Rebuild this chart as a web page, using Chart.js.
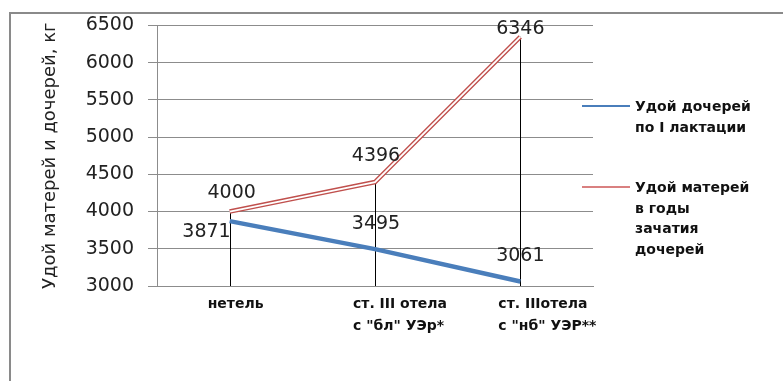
<!DOCTYPE html>
<html>
<head>
<meta charset="utf-8">
<script src="https://cdn.jsdelivr.net/npm/chart.js@4"></script>
<style>
  html, body { margin: 0; padding: 0; background: #fff; }
  #wrap { position: relative; width: 783px; height: 381px; overflow: hidden; background: #fff; }
  #frame { position: absolute; left: 9px; top: 12px; width: 830px; height: 430px;
           border: 2px solid #8a8a8a; box-sizing: border-box; }
  #chart { position: absolute; left: 0; top: 0; }
  #legend { position: absolute; left: 582px; top: 0; font: bold 14px "DejaVu Sans", sans-serif; color: #111; }
  .item { position: absolute; left: 0; white-space: nowrap; }
  .swatch { position: absolute; left: 0; width: 48px; height: 2px; }
  .txt { position: absolute; left: 53px; top: 0; line-height: 20.5px; }
</style>
</head>
<body>
<div id="wrap">
  <div id="frame"></div>
  <canvas id="chart" width="783" height="381"></canvas>
  <div id="legend"></div>
</div>
<script>
// Categories (multi-line axis labels)
const categories = [
  ['нетель'],
  ['ст. III отела', 'с "бл" УЭр*'],
  ['ст. IIIотела', 'с "нб" УЭР**']
];

// Milk yield, kg
const daughtersYield = [3871, 3495, 3061];
const mothersYield   = [4000, 4396, 6346];

// Value axis
const yMin = 3000;
const yMax = 6500;
const yStep = 500;
const yTitle = 'Удой матерей и дочерей, кг';

// Series names as they wrap in the legend
const daughtersName = ['Удой дочерей', 'по I лактации'];
const mothersName   = ['Удой матерей', 'в годы', 'зачатия', 'дочерей'];

const BLUE = '#4a7ebb';
const RED = '#c0504d';
const GRID = '#8c8c8c';
const FONT = '"DejaVu Sans", sans-serif';

// Vertical drop lines from the highest point of each category to the axis
const dropLines = {
  id: 'dropLines',
  beforeDatasetsDraw(chart) {
    const { ctx, chartArea, scales: { x, y } } = chart;
    ctx.save();
    ctx.strokeStyle = '#000';
    ctx.lineWidth = 1;
    categories.forEach((_, i) => {
      const top = Math.max(daughtersYield[i], mothersYield[i]);
      const px = Math.round(x.getPixelForValue(i)) + 0.5;
      ctx.beginPath();
      ctx.moveTo(px, y.getPixelForValue(top));
      ctx.lineTo(px, chartArea.bottom);
      ctx.stroke();
    });
    ctx.restore();
  }
};

// Value labels next to each point
const valueLabels = {
  id: 'valueLabels',
  afterDatasetsDraw(chart, args, opts) {
    const { ctx } = chart;
    ctx.save();
    ctx.font = opts.font;
    ctx.fillStyle = opts.color;
    ctx.textBaseline = 'middle';
    opts.series.forEach(dsIndex => {
      const meta = chart.getDatasetMeta(dsIndex);
      const values = chart.data.datasets[dsIndex].data;
      meta.data.forEach((pt, i) => {
        const p = opts.placement[dsIndex][i];
        ctx.textAlign = p.align;
        ctx.fillText(String(values[i]), pt.x + p.dx, pt.y + p.dy);
      });
    });
    ctx.restore();
  }
};

const chart = new Chart(document.getElementById('chart'), {
  type: 'line',
  data: {
    labels: categories,
    datasets: [
      {
        label: daughtersName.join(' '),
        data: daughtersYield,
        borderColor: BLUE,
        borderWidth: 4.5,
        pointRadius: 0,
        order: 1
      },
      {
        label: mothersName.join(' '),
        data: mothersYield,
        borderColor: RED,
        borderWidth: 4.5,
        pointRadius: 0,
        order: 1
      },
      {
        // white core that gives the mothers' line its double stroke
        label: '',
        data: mothersYield,
        borderColor: '#ffffff',
        borderWidth: 1.8,
        pointRadius: 0,
        order: 0
      }
    ]
  },
  options: {
    responsive: false,
    animation: false,
    events: [],
    layout: { padding: { left: 0, right: 190, top: 25, bottom: 0 } },
    plugins: {
      legend: { display: false },
      tooltip: { enabled: false },
      valueLabels: {
        font: '19px ' + FONT,
        color: '#222',
        series: [0, 1],
        placement: {
          0: [ { dx: 1, dy: 11, align: 'right' }, { dx: 1, dy: -25, align: 'center' }, { dx: 0, dy: -25, align: 'center' } ],
          1: [ { dx: 2, dy: -18, align: 'center' }, { dx: 1, dy: -26, align: 'center' }, { dx: 0, dy: -8, align: 'center' } ]
        }
      }
    },
    scales: {
      x: {
        type: 'category',
        offset: true,
        grid: { display: false, drawTicks: false },
        border: { display: true, color: GRID, width: 1 },
        ticks: {
          autoSkip: false,
          maxRotation: 0,
          minRotation: 0,
          align: 'start',
          labelOffset: -22,
          padding: 7,
          color: '#111',
          font: { family: FONT, size: 14, weight: 'bold', lineHeight: 1.6 }
        },
        afterFit(scale) { scale.height = 95; }
      },
      y: {
        min: yMin,
        max: yMax,
        ticks: {
          stepSize: yStep,
          padding: 14,
          color: '#222',
          font: { family: FONT, size: 19 },
          callback: v => String(v)
        },
        grid: { color: GRID, tickLength: 9, lineWidth: 1 },
        border: { display: true, color: GRID, width: 1 },
        title: {
          display: true,
          text: yTitle,
          color: '#222',
          font: { family: FONT, size: 18 },
          padding: { top: 40, bottom: 0 }
        },
        afterFit(scale) { scale.width = 157; }
      }
    }
  },
  plugins: [dropLines, valueLabels]
});

// Legend built from the line datasets
const legendEl = document.getElementById('legend');
const legendItems = [
  { lines: daughtersName, color: chart.data.datasets[0].borderColor, top: 96 },
  { lines: mothersName, color: '#d98080', top: 177 }
];
legendItems.forEach(item => {
  const div = document.createElement('div');
  div.className = 'item';
  div.style.top = item.top + 'px';
  const sw = document.createElement('div');
  sw.className = 'swatch';
  sw.style.background = item.color;
  sw.style.top = '9px';
  const txt = document.createElement('div');
  txt.className = 'txt';
  txt.innerHTML = item.lines.map(s => s.replace(/&/g, '&amp;').replace(/</g, '&lt;')).join('<br>');
  div.appendChild(sw);
  div.appendChild(txt);
  legendEl.appendChild(div);
});
</script>
</body>
</html>
